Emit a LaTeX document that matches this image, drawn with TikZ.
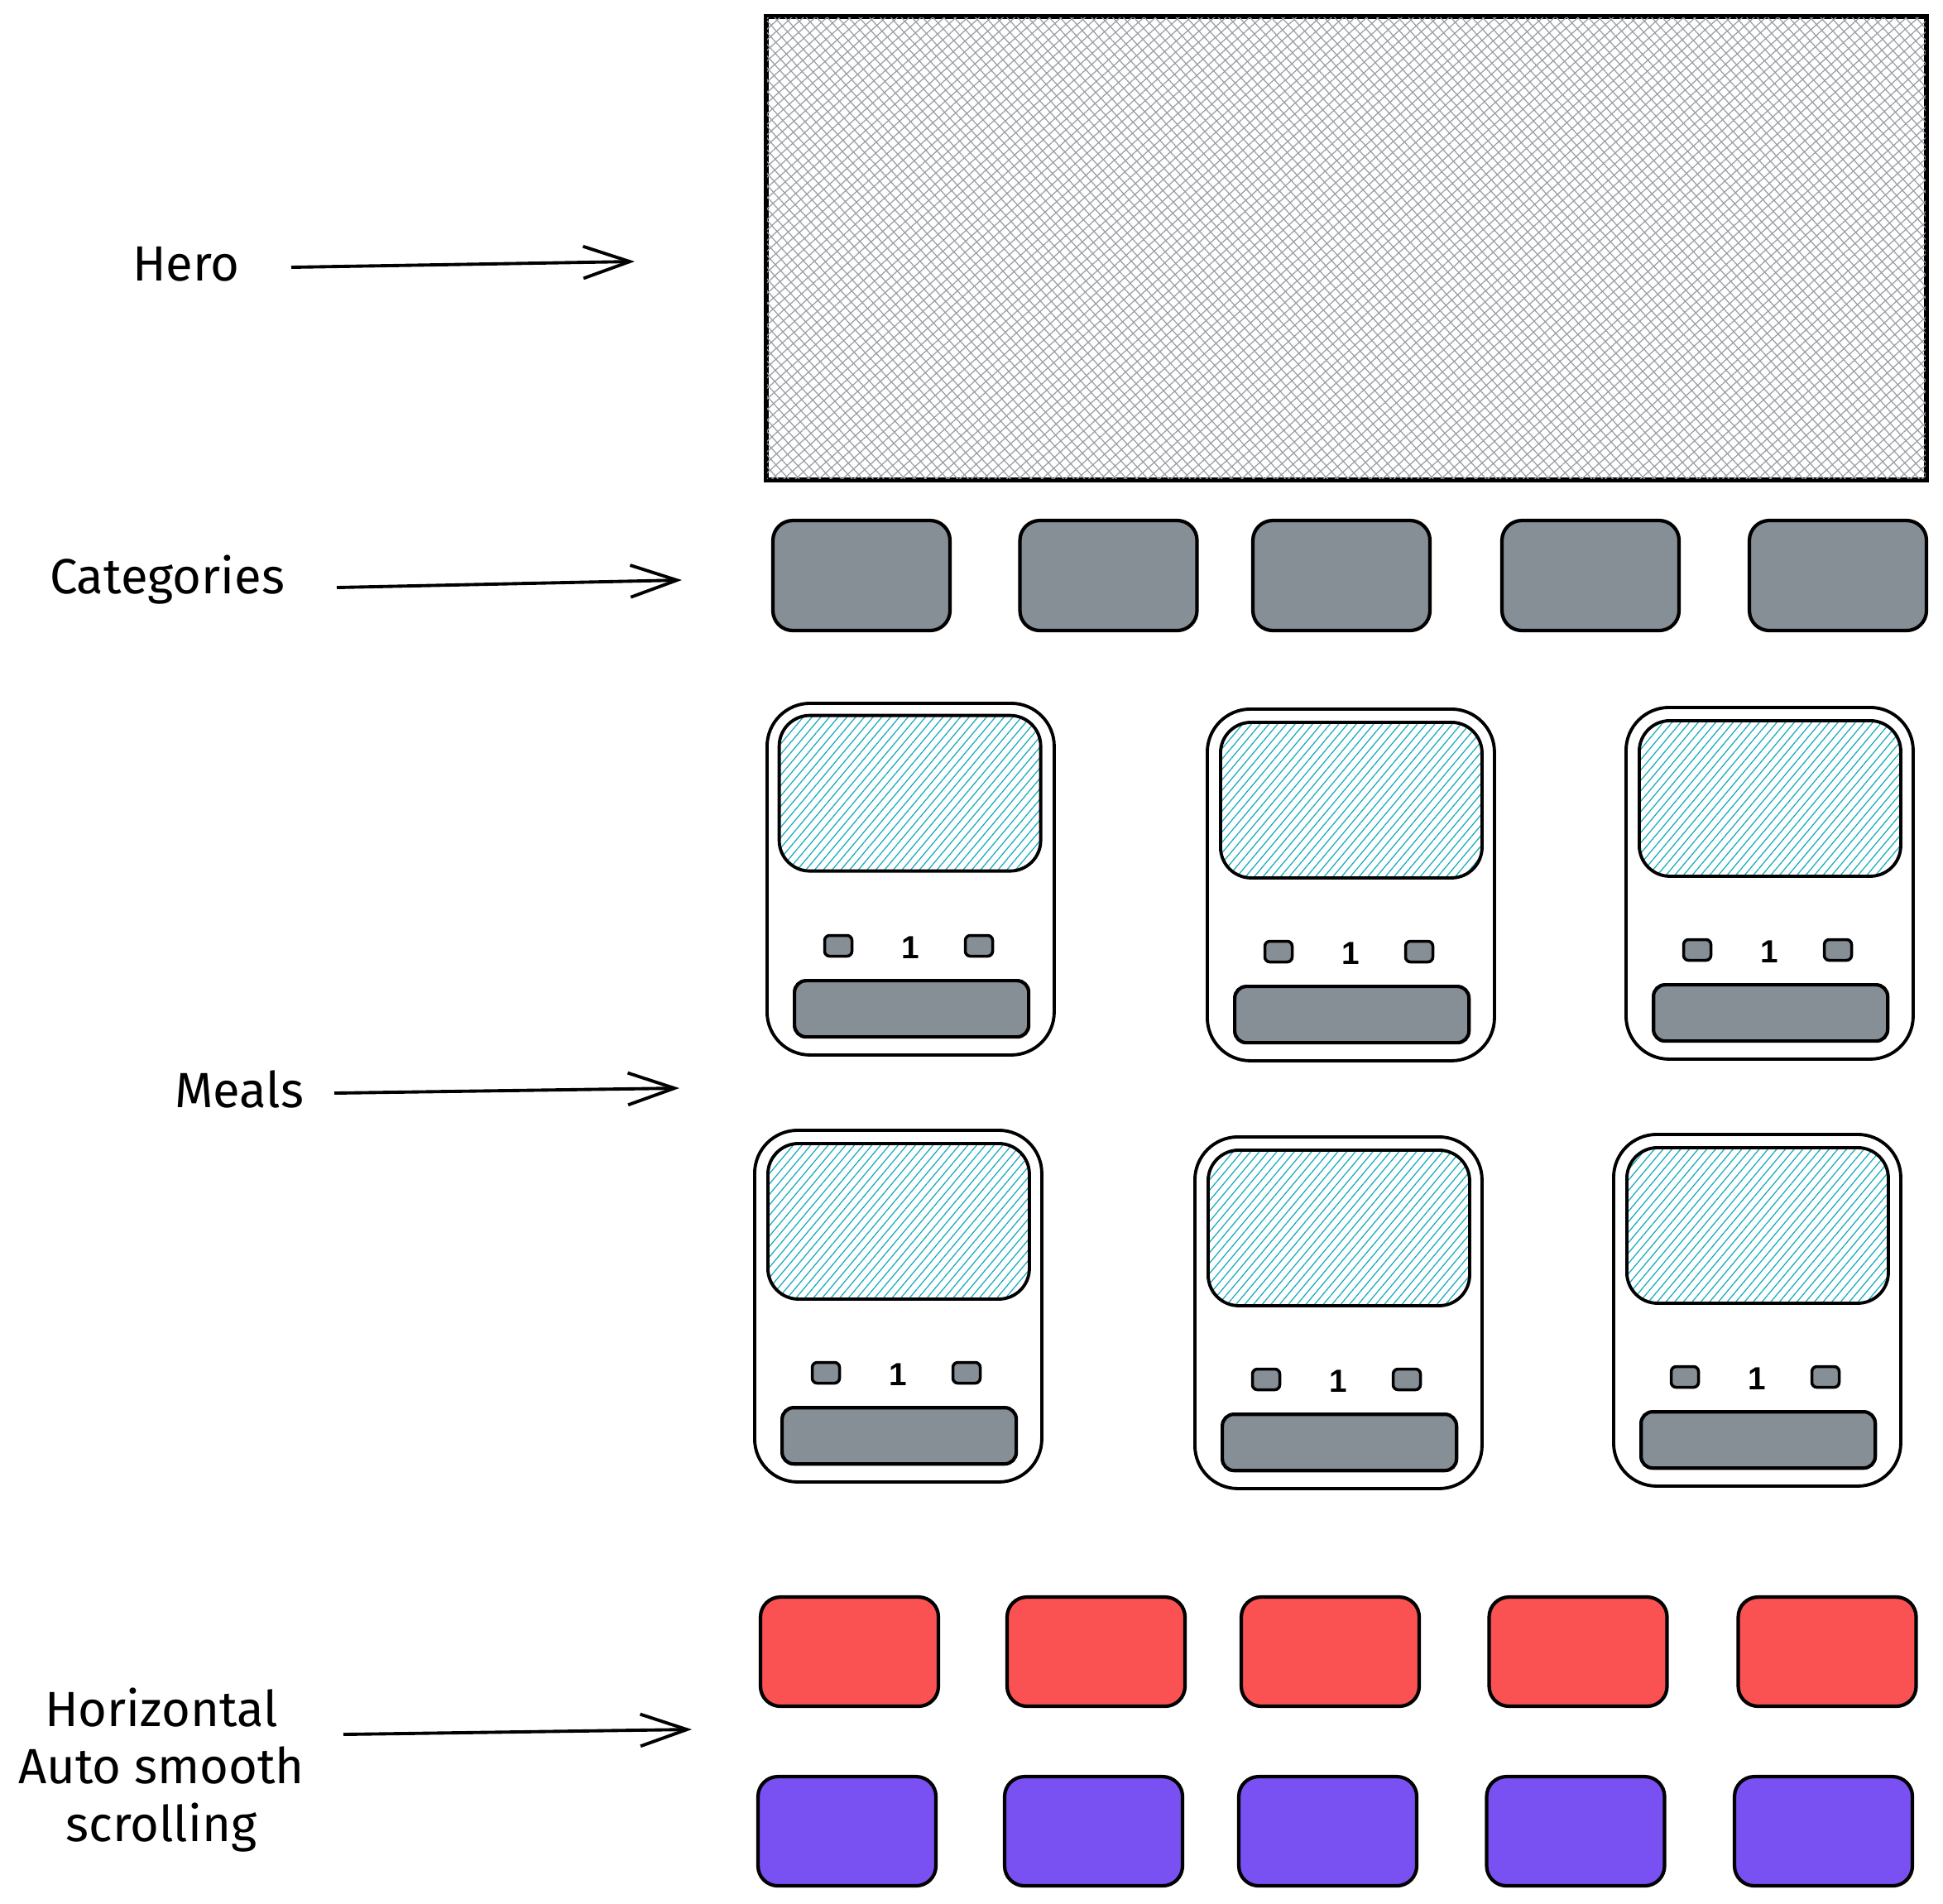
\documentclass[tikz,border=0pt]{standalone}
\usepackage{fontspec}
\setmainfont{Fira Sans}
\newfontfamily\numfont{Liberation Sans}
\usetikzlibrary{patterns.meta,arrows.meta}
\definecolor{exgray}{HTML}{868E96}
\definecolor{exred}{HTML}{FA5252}
\definecolor{expurple}{HTML}{7950F2}
\definecolor{excyan}{HTML}{15AABF}
\tikzset{
  lbl/.style={font=\fontsize{17}{20}\selectfont, text=black, inner sep=0pt},
  pointer/.style={draw=black, line width=1.1pt, -{Straight Barb[length=16pt,width=11pt,line width=1.1pt]}},
  catbox/.style={draw=black, line width=1.2pt, fill=exgray, rounded corners=0.24cm, minimum width=2.14cm, minimum height=1.33cm, inner sep=0pt},
  redbox/.style={catbox, fill=exred, minimum width=2.15cm, minimum height=1.32cm},
  purplebox/.style={catbox, fill=expurple, minimum width=2.15cm, minimum height=1.32cm},
  cardbox/.style={draw=black, line width=1.1pt, fill=white, rounded corners=0.52cm, minimum width=3.47cm, minimum height=4.25cm, inner sep=0pt},
  imgbox/.style={draw=black, line width=1.1pt, rounded corners=0.37cm, minimum width=3.16cm, minimum height=1.88cm, inner sep=0pt,
     pattern={Lines[angle=50,distance=2.3pt,line width=0.35pt]}, pattern color=excyan},
  smallbtn/.style={draw=black, line width=1pt, fill=exgray, rounded corners=0.06cm, minimum width=0.33cm, minimum height=0.25cm, inner sep=0pt},
  barbox/.style={draw=black, line width=1.2pt, fill=exgray, rounded corners=0.14cm, minimum width=2.83cm, minimum height=0.68cm, inner sep=0pt},
  numtext/.style={font=\numfont\bfseries\fontsize{11}{12}\selectfont, inner sep=0pt},
  herobox/.style={draw=black, line width=1.1pt, fill=white, minimum width=14cm, minimum height=5.58cm, inner sep=0pt}
}
\newcommand{\mealcard}[3]{%
  \begin{scope}[shift={(#2,#3)}]
    \node[cardbox, anchor=north west] (#1) at (0,0) {};
    \node[imgbox, anchor=north west] (#1img) at (0.16,-0.16) {};
    \node[smallbtn] (#1minus) at (0.88,-2.95) {};
    \node[numtext] (#1num) at (1.75,-2.97) {1};
    \node[smallbtn] (#1plus) at (2.58,-2.95) {};
    \node[barbox, anchor=north west] (#1bar) at (0.33,-3.35) {};
  \end{scope}}
\begin{document}
\begin{tikzpicture}
\useasboundingbox (0,0) rectangle (23.48,-23.00);
% Hero
\node[herobox, anchor=north west] (hero) at (9.25,-0.19) {};
\fill[pattern={Lines[angle=42,distance=2.7pt,line width=0.35pt]}, pattern color=exgray!85] (hero.south west) rectangle (hero.north east);
\fill[pattern={Lines[angle=-48,distance=2.7pt,line width=0.35pt]}, pattern color=exgray!85] (hero.south west) rectangle (hero.north east);
\draw[line width=1.1pt] (hero.south west) rectangle (hero.north east);
% Labels and arrows
\node[lbl] (herolbl) at (2.25,-3.19) {Hero};
\coordinate (heroS) at (3.52,-3.23);
\coordinate (heroE) at (7.67,-3.16);
\draw[pointer] (heroS) -- (heroE);
\node[lbl] (catlbl) at (2.02,-7.01) {Categories};
\coordinate (catS) at (4.07,-7.10);
\coordinate (catE) at (8.24,-7.01);
\draw[pointer] (catS) -- (catE);
\node[lbl] (meallbl) at (2.89,-13.16) {Meals};
\coordinate (mealS) at (4.04,-13.21);
\coordinate (mealE) at (8.21,-13.15);
\draw[pointer] (mealS) -- (mealE);
\node[lbl, align=center, font=\fontsize{17}{19.9}\selectfont] (scrolllbl) at (1.95,-21.39) {Horizontal\\Auto smooth\\scrolling};
\coordinate (scrS) at (4.15,-20.96);
\coordinate (scrE) at (8.36,-20.90);
\draw[pointer] (scrS) -- (scrE);
% Categories
\node[catbox] (cat1) at (10.41,-6.955) {};
\node[catbox] (cat2) at (13.395,-6.955) {};
\node[catbox] (cat3) at (16.21,-6.955) {};
\node[catbox] (cat4) at (19.22,-6.955) {};
\node[catbox] (cat5) at (22.21,-6.955) {};
% Meals
\mealcard{mealA}{9.25}{-8.48}
\mealcard{mealB}{14.57}{-8.55}
\mealcard{mealC}{19.63}{-8.53}
\mealcard{mealD}{9.10}{-13.64}
\mealcard{mealE}{14.42}{-13.72}
\mealcard{mealF}{19.48}{-13.69}
% Scrolling rows
\node[redbox] (red1) at (10.265,-19.96) {};
\node[redbox] (red2) at (13.245,-19.96) {};
\node[redbox] (red3) at (16.075,-19.96) {};
\node[redbox] (red4) at (19.07,-19.96) {};
\node[redbox] (red5) at (22.08,-19.96) {};
\node[purplebox] (pur1) at (10.235,-22.13) {};
\node[purplebox] (pur2) at (13.215,-22.13) {};
\node[purplebox] (pur3) at (16.045,-22.13) {};
\node[purplebox] (pur4) at (19.04,-22.13) {};
\node[purplebox] (pur5) at (22.035,-22.13) {};
\end{tikzpicture}
\end{document}
